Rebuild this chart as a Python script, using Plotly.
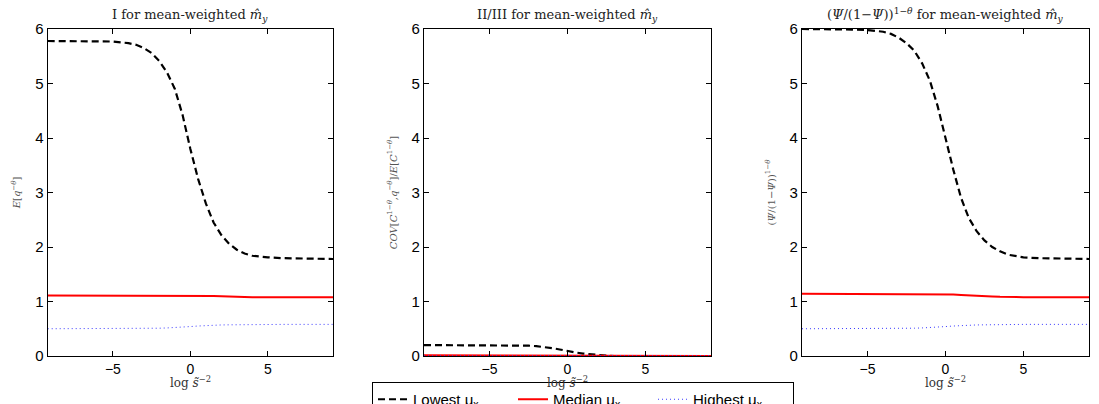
import plotly.graph_objects as go
from plotly.subplots import make_subplots

# ---- data ----
x = [-9.21, -8, -7, -6, -5, -4, -3.5, -3, -2.5, -2, -1.5, -1, -0.5, 0, 0.5, 1,
     1.5, 2, 2.5, 3, 3.5, 4, 5, 6, 7, 8, 9.21]

p1_lowest = [5.78, 5.78, 5.78, 5.775, 5.77, 5.74, 5.71, 5.65, 5.56, 5.41, 5.2, 4.9,
             4.42, 3.8, 3.25, 2.8, 2.45, 2.22, 2.06, 1.95, 1.88, 1.84, 1.81, 1.795,
             1.79, 1.785, 1.78]
p1_median = [1.11, 1.11, 1.11, 1.11, 1.11, 1.11, 1.11, 1.11, 1.11, 1.11, 1.11, 1.11,
             1.11, 1.11, 1.11, 1.105, 1.10, 1.095, 1.09, 1.085, 1.083, 1.08, 1.08,
             1.08, 1.08, 1.08, 1.08]
p1_highest = [0.5, 0.5, 0.5, 0.5, 0.5, 0.5, 0.5, 0.5, 0.505, 0.51, 0.515, 0.52, 0.53,
              0.54, 0.55, 0.56, 0.565, 0.57, 0.572, 0.575, 0.578, 0.58, 0.58, 0.58,
              0.58, 0.58, 0.58]

p2_lowest = [0.2, 0.2, 0.2, 0.2, 0.2, 0.2, 0.198, 0.195, 0.19, 0.18, 0.165, 0.145,
             0.12, 0.09, 0.065, 0.045, 0.03, 0.015, 0.005, 0.0, 0.0, 0.0, 0.0, 0.0,
             0.0, 0.0, 0.0]
p2_median = [0.015, 0.015, 0.015, 0.015, 0.015, 0.015, 0.015, 0.015, 0.015, 0.015,
             0.015, 0.014, 0.013, 0.012, 0.01, 0.008, 0.006, 0.004, 0.003, 0.002,
             0.002, 0.002, 0.002, 0.002, 0.002, 0.002, 0.002]
p2_highest = [0.004] * 27

p3_lowest = [6.0, 6.0, 6.0, 5.99, 5.98, 5.95, 5.91, 5.84, 5.74, 5.6, 5.37, 5.05,
             4.58, 3.99, 3.42, 2.9, 2.53, 2.29, 2.12, 2.0, 1.92, 1.86, 1.81, 1.795,
             1.79, 1.785, 1.78]
p3_median = [1.14, 1.14, 1.14, 1.14, 1.14, 1.14, 1.14, 1.14, 1.14, 1.14, 1.14, 1.14,
             1.14, 1.135, 1.13, 1.12, 1.11, 1.10, 1.095, 1.09, 1.085, 1.08, 1.08,
             1.08, 1.08, 1.08, 1.08]
p3_highest = p1_highest

titles = ["I for mean-weighted <i>m̂</i><sub><i>y</i></sub>",
          "II/III for mean-weighted <i>m̂</i><sub><i>y</i></sub>",
          "(<i>Ψ</i>/(1−<i>Ψ</i>))<sup>1−<i>θ</i></sup> for mean-weighted <i>m̂</i><sub><i>y</i></sub>"]
ylabels = ["<i>E</i>[<i>q</i><sup>−<i>θ</i></sup>]",
           "<i>COV</i>[<i>C</i><sup>1−<i>θ</i></sup>,<i>q</i><sup>−<i>θ</i></sup>]/<i>E</i>[<i>C</i><sup>1−<i>θ</i></sup>]",
           "(<i>Ψ</i>/(1−<i>Ψ</i>))<sup>1−<i>θ</i></sup>"]
xlabel = "log <i>s̃</i><sup>−2</sup>"
series_names = ["Lowest μ<sub>x</sub>", "Median μ<sub>x</sub>", "Highest μ<sub>x</sub>"]

panels = [(p1_lowest, p1_median, p1_highest),
          (p2_lowest, p2_median, p2_highest),
          (p3_lowest, p3_median, p3_highest)]

styles = [dict(color="black", width=2.2, dash="7px,4px"),
          dict(color="#ff0000", width=2),
          dict(color="#3a3aff", width=1, dash="1px,3px")]

W, H = 1099, 404
fig = make_subplots(rows=1, cols=3)

for i, data in enumerate(panels):
    for j, ys in enumerate(data):
        fig.add_trace(go.Scatter(x=x, y=ys, mode="lines", name=series_names[j],
                                 line=styles[j], showlegend=(i == 0)),
                      row=1, col=i + 1)

doms = [(47.7, 333.0), (424.0, 711.0), (802.0, 1089.0)]
serif = "DejaVu Serif, serif"
for i in range(3):
    xa = "xaxis" if i == 0 else f"xaxis{i+1}"
    ya = "yaxis" if i == 0 else f"yaxis{i+1}"
    fig.layout[xa].update(domain=[doms[i][0] / W, doms[i][1] / W], range=[-9.21, 9.21],
                          tickvals=[-5, 0, 5], ticks="inside", ticklen=5, tickcolor="black",
                          showline=True, linecolor="black", linewidth=1.3, mirror="ticks",
                          showgrid=False, zeroline=False,
                          tickfont=dict(family="Liberation Sans, Arial", size=14, color="black"))
    fig.layout[ya].update(range=[0, 6], tickvals=[0, 1, 2, 3, 4, 5, 6], ticks="inside",
                          ticklen=5, tickcolor="black",
                          showline=True, linecolor="black", linewidth=1.3, mirror="ticks",
                          showgrid=False, zeroline=False,
                          tickfont=dict(family="Liberation Sans, Arial", size=15, color="black"),
                          title=dict(text=ylabels[i], font=dict(family=serif, size=10, color="#555"),
                                     standoff=12))
    cx = (doms[i][0] + doms[i][1]) / 2 / W
    fig.add_annotation(text=titles[i], xref="paper", yref="paper",
                       x=cx, xanchor="center",
                       y=1, yanchor="bottom", yshift=3, showarrow=False,
                       font=dict(family=serif, size=13, color="#222"))
    # x-axis title
    fig.add_annotation(text=xlabel, xref="paper", yref="paper",
                       x=cx, xanchor="center",
                       y=0, yanchor="top", yshift=-16, showarrow=False,
                       font=dict(family=serif, size=12, color="#333"))

fig.update_layout(
    width=W, height=H,
    margin=dict(l=0, r=0, t=29, b=47.5, autoexpand=False),
    plot_bgcolor="white", paper_bgcolor="white",
    legend=dict(orientation="h", x=583 / W, xanchor="center",
                yref="container", y=(H - 382) / H, yanchor="top",
                bordercolor="black", borderwidth=1, bgcolor="white",
                font=dict(family="Liberation Sans, Arial", size=15, color="black"),
                entrywidth=95, tracegroupgap=0, itemwidth=30),
)

fig.write_html("out.html", config={"displayModeBar": False},
               post_script="document.body.style.margin='0';document.body.style.overflow='hidden';")
